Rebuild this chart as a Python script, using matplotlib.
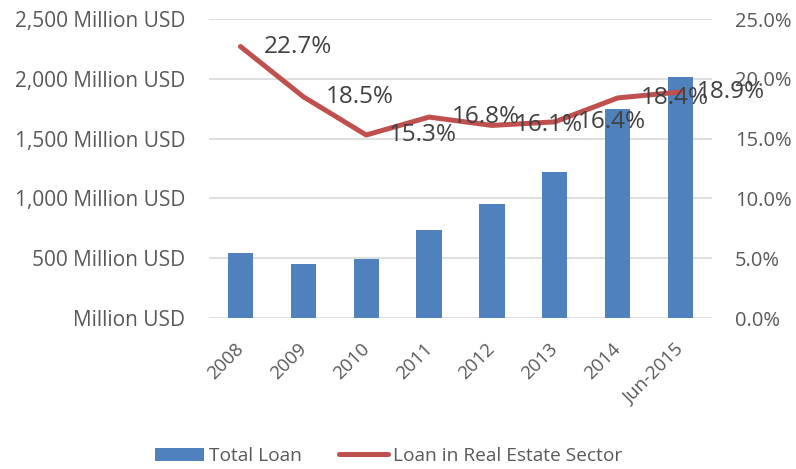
import matplotlib
matplotlib.use("Agg")
import matplotlib.pyplot as plt
import matplotlib.transforms as mtransforms
from matplotlib.ticker import FuncFormatter
from matplotlib.lines import Line2D
from matplotlib.patches import Patch

categories = ["2008", "2009", "2010", "2011", "2012", "2013", "2014", "Jun-2015"]
total_loan = [540, 455, 490, 733, 953, 1219, 1747, 2017]
real_estate_share = [22.7, 18.5, 15.3, 16.8, 16.1, 16.4, 18.4, 18.9]
left_ticks = [0, 500, 1000, 1500, 2000, 2500]
right_ticks = [0, 5, 10, 15, 20, 25]

plt.rcParams['font.family'] = ['Open Sans', 'DejaVu Sans']
txt = '#595959'
bar_c = '#4F81BD'
line_c = '#C0504D'

fig = plt.figure(figsize=(7.96, 4.69), dpi=100)
ax = fig.add_axes([209/796, 1 - 318/469, (712-209)/796, 299/469])
ax2 = ax.twinx()

x = list(range(len(categories)))
ax.bar(x, total_loan, width=0.4, color=bar_c, zorder=2)
ax.set_ylim(0, 2500)
ax.set_xlim(-0.5, len(categories) - 0.5)
ax.set_yticks(left_ticks)
ax.yaxis.set_major_formatter(FuncFormatter(lambda v, p: ("Million USD" if v == 0 else f"{int(v):,} Million USD")))
ax.grid(axis='y', color='#D9D9D9', linewidth=1.2, zorder=0)
ax.set_axisbelow(True)
ax.set_xticks(x)
ax.set_xticklabels(categories, rotation=45, ha='right', va='top', rotation_mode='anchor')
ax.tick_params(axis='y', length=0, labelsize=15, colors=txt, pad=17)
ax.tick_params(axis='x', length=0, labelsize=13.5, colors=txt, pad=16)
shift = mtransforms.ScaledTranslation(-6/100, 0, fig.dpi_scale_trans)
for lbl in ax.get_xticklabels():
    lbl.set_transform(lbl.get_transform() + shift)
for s in ax.spines.values():
    s.set_visible(False)
for s in ax2.spines.values():
    s.set_visible(False)

ax2.plot(x, real_estate_share, color=line_c, linewidth=3.6, solid_capstyle='round', zorder=3)
ax2.set_ylim(0, 25)
ax2.set_yticks(right_ticks)
ax2.yaxis.set_major_formatter(FuncFormatter(lambda v, p: f"{v:.1f}%"))
ax2.tick_params(axis='y', length=0, labelsize=14.5, colors=txt, pad=16.5)
for i, (xi, v) in enumerate(zip(x, real_estate_share)):
    dx = 12 if i == len(x) - 1 else 16.5
    ax2.annotate(f"{v:.1f}%", (xi, v), xytext=(dx, 0), textcoords='offset points',
                 ha='left', va='center', fontsize=17.5, color='#404040', zorder=4)

handles = [Patch(facecolor=bar_c, edgecolor='none'),
           Line2D([0], [0], color=line_c, linewidth=3.6, solid_capstyle='round')]
fig.legend(handles, ["Total Loan", "Loan in Real Estate Sector"], loc='center',
           bbox_to_anchor=(389/796, 1 - 456/469), ncol=2, frameon=False, fontsize=13.75,
           labelcolor=txt, handlelength=2.57, handletextpad=0.26, columnspacing=1.94,
           borderpad=0, borderaxespad=0)

fig.savefig("out.png", dpi=100)
